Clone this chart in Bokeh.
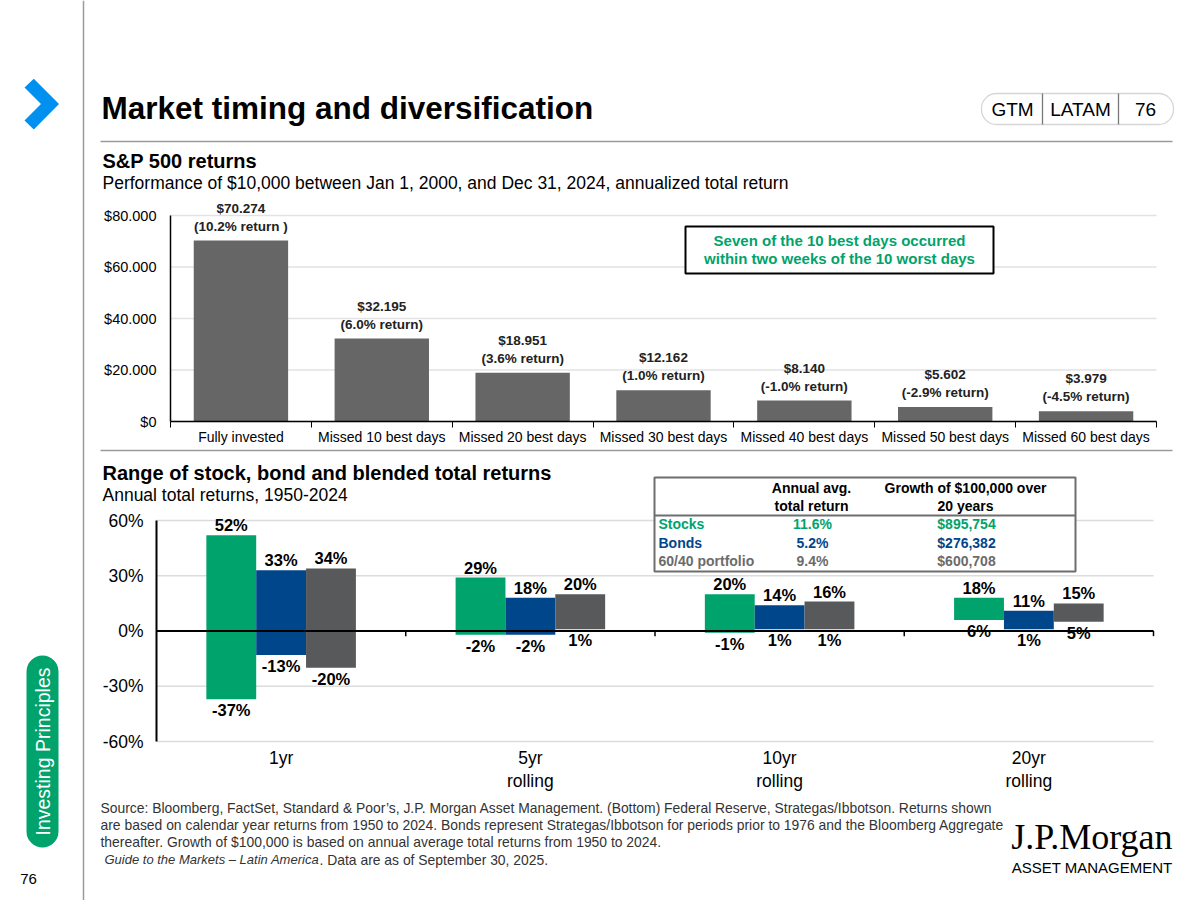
import math
import numpy as np
from bokeh.plotting import figure
from bokeh.models import Range1d, FixedTicker, PrintfTickFormatter, BoxAnnotation, LinearAxis
from bokeh.embed import file_html
from bokeh.resources import INLINE
from bokeh.core.properties import value

# ---------------- data ----------------
top_categories = ["Fully invested", "Missed 10 best days", "Missed 20 best days",
                  "Missed 30 best days", "Missed 40 best days", "Missed 50 best days",
                  "Missed 60 best days"]
top_values = [70274, 32195, 18951, 12162, 8140, 5602, 3979]
top_value_labels = ["$70.274", "$32.195", "$18.951", "$12.162", "$8.140", "$5.602", "$3.979"]
top_return_labels = ["(10.2% return )", "(6.0% return)", "(3.6% return)", "(1.0% return)",
                     "(-1.0% return)", "(-2.9% return)", "(-4.5% return)"]
top_ticks = [0, 20000, 40000, 60000, 80000]
top_tick_labels = ["$0", "$20.000", "$40.000", "$60.000", "$80.000"]

horizons = ["1yr", "5yr\nrolling", "10yr\nrolling", "20yr\nrolling"]
stocks_max = [52, 29, 20, 18]
stocks_min = [-37, -2, -1, 6]
bonds_max = [33, 18, 14, 11]
bonds_min = [-13, -2, 1, 1]
blend_max = [34, 20, 16, 15]
blend_min = [-20, 1, 1, 5]
range_ticks = [-60, -30, 0, 30, 60]

table_rows = ["Stocks", "Bonds", "60/40 portfolio"]
table_avg = ["11.6%", "5.2%", "9.4%"]
table_growth = ["$895,754", "$276,382", "$600,708"]

# ---------------- styles ----------------
GREEN = "#00A36C"
BLUE = "#00468B"
GRAY = "#58595B"
BAR = "#666666"
RULE = "#9a9a9a"
TB = "#6e6e6e"
FC = "#333333"
FONT = "Liberation Sans"
W, H = 1200, 900

# one page-sized canvas in pixel coordinates (y grows downward)
p = figure(width=W, height=H, x_range=Range1d(0, W), y_range=Range1d(H, 0),
           x_axis_location=None, y_axis_location=None, output_backend="svg",
           toolbar_location=None, min_border=0)
p.outline_line_color = None
p.grid.visible = False


def xmap(d0, p0, d1, p1):
    s = (p1 - p0) / (d1 - d0)
    start = d0 - p0 / s
    return Range1d(start, start + W / s)


def ymap(d0, p0, d1, p1):
    s = (p0 - p1) / (d1 - d0)
    end = d0 + p0 / s
    return Range1d(end - H / s, end)


def txt(x, y, s, size, color="black", bold=False, italic=False, align="left",
        baseline="middle", font=FONT, angle=0, **kw):
    style = "bold" if bold else ("italic" if italic else "normal")
    p.text(x=[x], y=[y], text=[s], text_font=value(font), text_font_size=f"{size}px",
           text_color=color, text_font_style=style, text_align=align,
           text_baseline=baseline, angle=angle, **kw)


n_top = len(top_categories)
top_x = np.arange(n_top) + 0.5
n_h = len(horizons)
hx = np.arange(n_h) + 0.5

p.extra_x_ranges = {"top_x": xmap(0, 170, n_top, 1156), "bot_x": xmap(0, 156, n_h, 1153)}
p.extra_y_ranges = {"top_y": ymap(0, 421, top_ticks[-1], 215),
                    "bot_y": ymap(range_ticks[0], 741, range_ticks[-1], 520)}
TOP = dict(x_range_name="top_x", y_range_name="top_y")
BOT = dict(x_range_name="bot_x", y_range_name="bot_y")

# ---------------- sidebar ----------------
p.segment(x0=[83], y0=[0], x1=[83], y1=[H], line_color=RULE, line_width=1.5)
p.patch(x=[33.3, 58.5, 33.3, 24, 40.5, 24], y=[78.3, 103.5, 129, 120, 103.5, 87],
        fill_color="#0090F0", line_color=None)
p.add_layout(BoxAnnotation(left=26, right=58, top=655, bottom=847, border_radius=16,
                           fill_color=GREEN, fill_alpha=1.0, line_color=None, level="underlay"))
txt(42, 751, "Investing Principles", 19.5, color="white", align="center", angle=math.pi / 2)
txt(28, 878, "76", 15, align="center")

# ---------------- header ----------------
txt(101, 107, "Market timing and diversification", 31.5, bold=True)
p.segment(x0=[100], y0=[141], x1=[1172], y1=[141], line_color=RULE, line_width=1.5)
p.add_layout(BoxAnnotation(left=981, right=1173, top=93, bottom=124, border_radius=15,
                           fill_color=None, line_color="#777777", line_width=1.3))
p.segment(x0=[1042, 1118], y0=[93, 93], x1=[1042, 1118], y1=[124, 124],
          line_color="#777777", line_width=1.3)
txt(1012, 109, "GTM", 19, align="center")
txt(1080, 109, "LATAM", 19, align="center")
txt(1145, 109, "76", 19, align="center")
txt(102, 160, "S&P 500 returns", 20, bold=True)
txt(102, 182, "Performance of $10,000 between Jan 1, 2000, and Dec 31, 2024, annualized total return", 17.5)

# ---------------- top chart ----------------
p.segment(x0=[0] * len(top_ticks), x1=[n_top] * len(top_ticks), y0=top_ticks, y1=top_ticks,
          line_color="#e2e2e2", line_width=1.5, **TOP)
p.vbar(x=top_x, top=top_values, bottom=0, width=0.67, fill_color=BAR, line_color=None, **TOP)
p.text(x=top_x, y=top_values,
       text=[f"{a}\n{b}" for a, b in zip(top_value_labels, top_return_labels)],
       text_font=value(FONT), text_font_size="13.5px", text_font_style="bold",
       text_align="center", text_baseline="bottom", y_offset=-7, text_line_height=1.2,
       text_color="#222222", **TOP)

ax = LinearAxis(fixed_location=0, bounds=(0, n_top), **TOP)
ax.ticker = FixedTicker(ticks=list(top_x), minor_ticks=list(range(n_top + 1)))
ax.major_label_overrides = {float(x): c for x, c in zip(top_x, top_categories)}
ax.major_tick_line_color = None
ax.major_tick_out = 0
ax.major_tick_in = 0
ax.minor_tick_line_color = "black"
ax.minor_tick_out = 6
ax.minor_tick_in = 0
ax.axis_line_color = "black"
ax.axis_line_width = 1.5
ax.major_label_text_font = FONT
ax.major_label_text_font_size = "14px"
ax.major_label_text_color = "black"
ax.major_label_standoff = 1
p.add_layout(ax, "below")

ay = LinearAxis(fixed_location=0, bounds=(0, top_ticks[-1]), **TOP)
ay.ticker = FixedTicker(ticks=top_ticks, minor_ticks=[])
ay.major_label_overrides = {t: l for t, l in zip(top_ticks, top_tick_labels)}
ay.major_tick_line_color = None
ay.major_tick_out = 0
ay.major_tick_in = 0
ay.minor_tick_line_color = None
ay.axis_line_color = "black"
ay.axis_line_width = 1.5
ay.major_label_text_font = FONT
ay.major_label_text_font_size = "14.5px"
ay.major_label_text_color = "black"
ay.major_label_standoff = 14
p.add_layout(ay, "left")

# callout box
p.quad(left=[685], right=[993], top=[226], bottom=[273], fill_color="white",
       line_color="black", line_width=2)
txt(839, 240, "Seven of the 10 best days occurred", 15, color=GREEN, bold=True, align="center")
txt(839, 258, "within two weeks of the 10 worst days", 15, color=GREEN, bold=True, align="center")

# ---------------- middle heading ----------------
p.segment(x0=[100], y0=[450], x1=[1172], y1=[450], line_color=RULE, line_width=1.5)
txt(102, 472, "Range of stock, bond and blended total returns", 20, bold=True)
txt(102, 494, "Annual total returns, 1950-2024", 17.5)

# ---------------- bottom chart ----------------
p.segment(x0=[0] * len(range_ticks), x1=[n_h] * len(range_ticks), y0=range_ticks, y1=range_ticks,
          line_color="#dcdcdc", line_width=1.5, **BOT)

series = [(stocks_max, stocks_min, GREEN), (bonds_max, bonds_min, BLUE), (blend_max, blend_min, GRAY)]
for k, (mx, mn, col) in enumerate(series):
    xs = hx + (k - 1) * 0.2
    p.vbar(x=xs, top=mx, bottom=mn, width=0.2, fill_color=col, line_color=None, **BOT)
for k, (mx, mn, col) in enumerate(series):
    xs = hx + (k - 1) * 0.2
    p.text(x=xs, y=mx, text=[f"{v}%" for v in mx], text_font=value(FONT),
           text_font_size="16.5px", text_font_style="bold", text_align="center",
           text_baseline="bottom", y_offset=-1, text_color="black", **BOT)
    p.text(x=xs, y=mn, text=[f"{v}%" for v in mn], text_font=value(FONT),
           text_font_size="16.5px", text_font_style="bold", text_align="center",
           text_baseline="top", y_offset=2, text_color="black", **BOT)

# zero line with category-boundary ticks
p.segment(x0=[0], x1=[n_h], y0=[0], y1=[0], line_color="black", line_width=2, **BOT)
bounds_x = list(range(1, n_h + 1))
p.segment(x0=bounds_x, y0=[0] * n_h, x1=bounds_x, y1=[-2.8] * n_h, line_color="black",
          line_width=1.5, **BOT)

bx = LinearAxis(fixed_location=range_ticks[0], bounds=(0, n_h), **BOT)
bx.ticker = FixedTicker(ticks=list(hx), minor_ticks=[])
bx.major_label_overrides = {float(x): h for x, h in zip(hx, horizons)}
bx.axis_line_color = None
bx.major_tick_line_color = None
bx.minor_tick_line_color = None
bx.major_tick_out = 0
bx.major_tick_in = 0
bx.major_label_standoff = 6
bx.major_label_text_font = FONT
bx.major_label_text_font_size = "17.5px"
bx.major_label_text_line_height = 1.15
bx.major_label_text_color = "black"
p.add_layout(bx, "below")

by = LinearAxis(fixed_location=0, bounds=(range_ticks[0], range_ticks[-1]), **BOT)
by.ticker = FixedTicker(ticks=range_ticks, minor_ticks=[])
by.formatter = PrintfTickFormatter(format="%d%%")
by.major_tick_line_color = None
by.minor_tick_line_color = None
by.major_tick_out = 0
by.major_tick_in = 0
by.axis_line_color = "black"
by.axis_line_width = 2
by.major_label_standoff = 13
by.major_label_text_font = FONT
by.major_label_text_font_size = "17.5px"
by.major_label_text_color = "black"
p.add_layout(by, "left")

# ---------------- table ----------------
p.quad(left=[654], right=[1075], top=[477], bottom=[571], fill_color="white",
       line_color=TB, line_width=2)
p.segment(x0=[654], y0=[515], x1=[1075], y1=[515], line_color=TB, line_width=2)
txt(811, 487, "Annual avg.", 14, bold=True, align="center")
txt(811, 505, "total return", 14, bold=True, align="center")
txt(965, 487, "Growth of $100,000 over", 14, bold=True, align="center")
txt(965, 505, "20 years", 14, bold=True, align="center")
row_colors = [GREEN, BLUE, "#6b6b6b"]
row_y = [523, 542, 560]
for name, avg, gr, c, yy in zip(table_rows, table_avg, table_growth, row_colors, row_y):
    txt(658, yy, name, 14, color=c, bold=True)
    txt(812, yy, avg, 14, color=c, bold=True, align="center")
    txt(966, yy, gr, 14, color=c, bold=True, align="center")

# ---------------- footer ----------------
foot_lines = [
    "Source: Bloomberg, FactSet, Standard & Poor\u2019s, J.P. Morgan Asset Management. (Bottom) Federal Reserve, Strategas/Ibbotson. Returns shown",
    "are based on calendar year returns from 1950 to 2024. Bonds represent Strategas/Ibbotson for periods prior to 1976 and the Bloomberg Aggregate",
    "thereafter. Growth of $100,000 is based on annual average total returns from 1950 to 2024.",
]
for i, s in enumerate(foot_lines):
    txt(100, 807 + i * 17.3, s, 13.9, color=FC)
txt(104, 859, "Guide to the Markets \u2013 Latin America", 13, color=FC, italic=True)
txt(319, 859, ". Data are as of September 30, 2025.", 13.9, color=FC)
txt(1172, 836, "J.P.Morgan", 36, align="right", font="Liberation Serif")
txt(1172, 867, "ASSET MANAGEMENT", 15, align="right")

open("out.html", "w").write(file_html(p, INLINE))
